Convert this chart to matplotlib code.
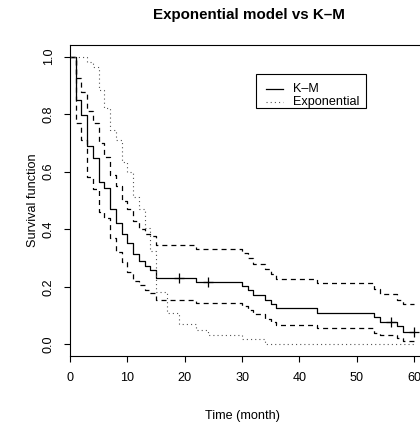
import matplotlib
matplotlib.use("Agg")
import matplotlib.pyplot as plt
from matplotlib.patches import Rectangle
from matplotlib.lines import Line2D

# ---- data ----
km_times = [0, 1, 2, 3, 4, 5, 6, 7, 8, 9, 10, 11, 12, 13, 14, 15, 22, 30, 31, 32,
            34, 35, 36, 43, 53, 54, 57, 58]
km_surv = [1.0, 0.85, 0.797, 0.689, 0.646, 0.563, 0.544, 0.47, 0.422, 0.385, 0.351,
           0.314, 0.289, 0.274, 0.26, 0.231, 0.218, 0.202, 0.189, 0.171, 0.156, 0.14,
           0.125, 0.11, 0.094, 0.077, 0.063, 0.043]
km_upper = [1.0, 0.925, 0.877, 0.81, 0.77, 0.70, 0.65, 0.59, 0.55, 0.50, 0.47, 0.43,
            0.40, 0.385, 0.375, 0.347, 0.33, 0.316, 0.299, 0.281, 0.261, 0.246, 0.229,
            0.213, 0.194, 0.176, 0.156, 0.14]
km_lower = [1.0, 0.77, 0.71, 0.58, 0.54, 0.46, 0.44, 0.37, 0.32, 0.285, 0.25, 0.22,
            0.205, 0.19, 0.18, 0.156, 0.144, 0.133, 0.119, 0.105, 0.09, 0.078, 0.067,
            0.056, 0.04, 0.032, 0.023, 0.012]
censor_times = [19, 24, 56, 60]
censor_surv = [0.231, 0.218, 0.077, 0.043]

exp_times = [0, 3, 4, 5, 6, 7, 8, 9, 10, 11, 12, 13, 14, 15, 17, 19, 22, 24, 30, 34]
exp_surv = [1.0, 0.98, 0.962, 0.883, 0.82, 0.744, 0.709, 0.634, 0.60, 0.513, 0.47,
            0.405, 0.325, 0.183, 0.108, 0.07, 0.05, 0.032, 0.02, 0.0]
t_end = 60

x_ticks = [0, 10, 20, 30, 40, 50, 60]
y_ticks = [0.0, 0.2, 0.4, 0.6, 0.8, 1.0]
y_tick_labels = ["0.0", "0.2", "0.4", "0.6", "0.8", "1.0"]
legend_labels = ["K\u2013M", "Exponential"]

# ---- style ----
plt.rcParams["font.family"] = ["Liberation Sans", "DejaVu Sans"]
plt.rcParams["lines.scale_dashes"] = False
FS = 9.1

W, H = 420, 424
fig = plt.figure(figsize=(W / 100, H / 100), dpi=100)

def fx(px):
    return px / W

def fy(py):
    return 1 - py / H

left_px, right_px, top_px, bottom_px = 70, 428.4, 45, 356
ax = fig.add_axes([fx(left_px), fy(bottom_px), fx(right_px - left_px), (bottom_px - top_px) / H])
ax.set_xlim(0, 60 * (right_px - left_px) / 344)
ax.set_ylim(-0.04, 1.04)

lw = 0.9
def extend(t, s):
    return list(t) + [t_end], list(s) + [s[-1]]

tt, ss = extend(km_times, km_surv)
ax.step(tt, ss, where="post", color="black", lw=lw)
tt, su = extend(km_times, km_upper)
ax.step(tt, su, where="post", color="black", lw=lw, linestyle=(0, (3.6, 2.9)))
tt, sl = extend(km_times, km_lower)
ax.step(tt, sl, where="post", color="black", lw=lw, linestyle=(0, (3.6, 2.9)))
et, es = extend(exp_times, exp_surv)
ax.step(et, es, where="post", color="#555555", lw=0.8, linestyle=(0, (0.8, 2.2)))
ax.plot(censor_times, censor_surv, linestyle="none", marker="+", color="black",
        markersize=7, markeredgewidth=0.9, clip_on=False)

for sp in ax.spines.values():
    sp.set_linewidth(0.8)

ax.set_xticks(x_ticks)
ax.set_xticklabels([str(v) for v in x_ticks], fontsize=FS)
ax.set_yticks(y_ticks)
ax.set_yticklabels(y_tick_labels, fontsize=FS, rotation=90, va="center")
ax.tick_params(direction="out", length=4.5, width=0.8, top=False, right=False)
ax.tick_params(axis="x", pad=7)
ax.tick_params(axis="y", pad=6.5)

ax.set_xlabel("Time (month)", fontsize=FS)
ax.xaxis.set_label_coords(0.5 * 344 / (right_px - left_px), -(410 - bottom_px) / (bottom_px - top_px))
ax.set_ylabel("Survival function", fontsize=FS)
ax.yaxis.set_label_coords(-(70 - 39) / (right_px - left_px), 0.5)

fig.text(fx((left_px + right_px) / 2), fy(15), "Exponential model vs K\u2013M",
         ha="center", va="center", fontsize=FS * 1.2, fontweight="bold")

# ---- legend (manual, R style) ----
bx0, by0, bx1, by1 = 256, 74, 366, 108
fig.patches.append(Rectangle((fx(bx0), fy(by1)), fx(bx1 - bx0), (by1 - by0) / H,
                             transform=fig.transFigure, fill=False, edgecolor="black",
                             linewidth=0.8))
rows = [89.3, 102.3]
styles = [dict(color="black", lw=lw, linestyle="-"),
          dict(color="#555555", lw=0.8, linestyle=(0, (0.8, 2.2)))]
for yy, st, lab in zip(rows, styles, legend_labels):
    fig.lines.append(Line2D([fx(265.7), fx(283.3)], [fy(yy), fy(yy)],
                            transform=fig.transFigure, **st))
    fig.text(fx(293.3), fy(yy), lab, ha="left", va="center", fontsize=FS)

fig.savefig("out.png", dpi=100)
